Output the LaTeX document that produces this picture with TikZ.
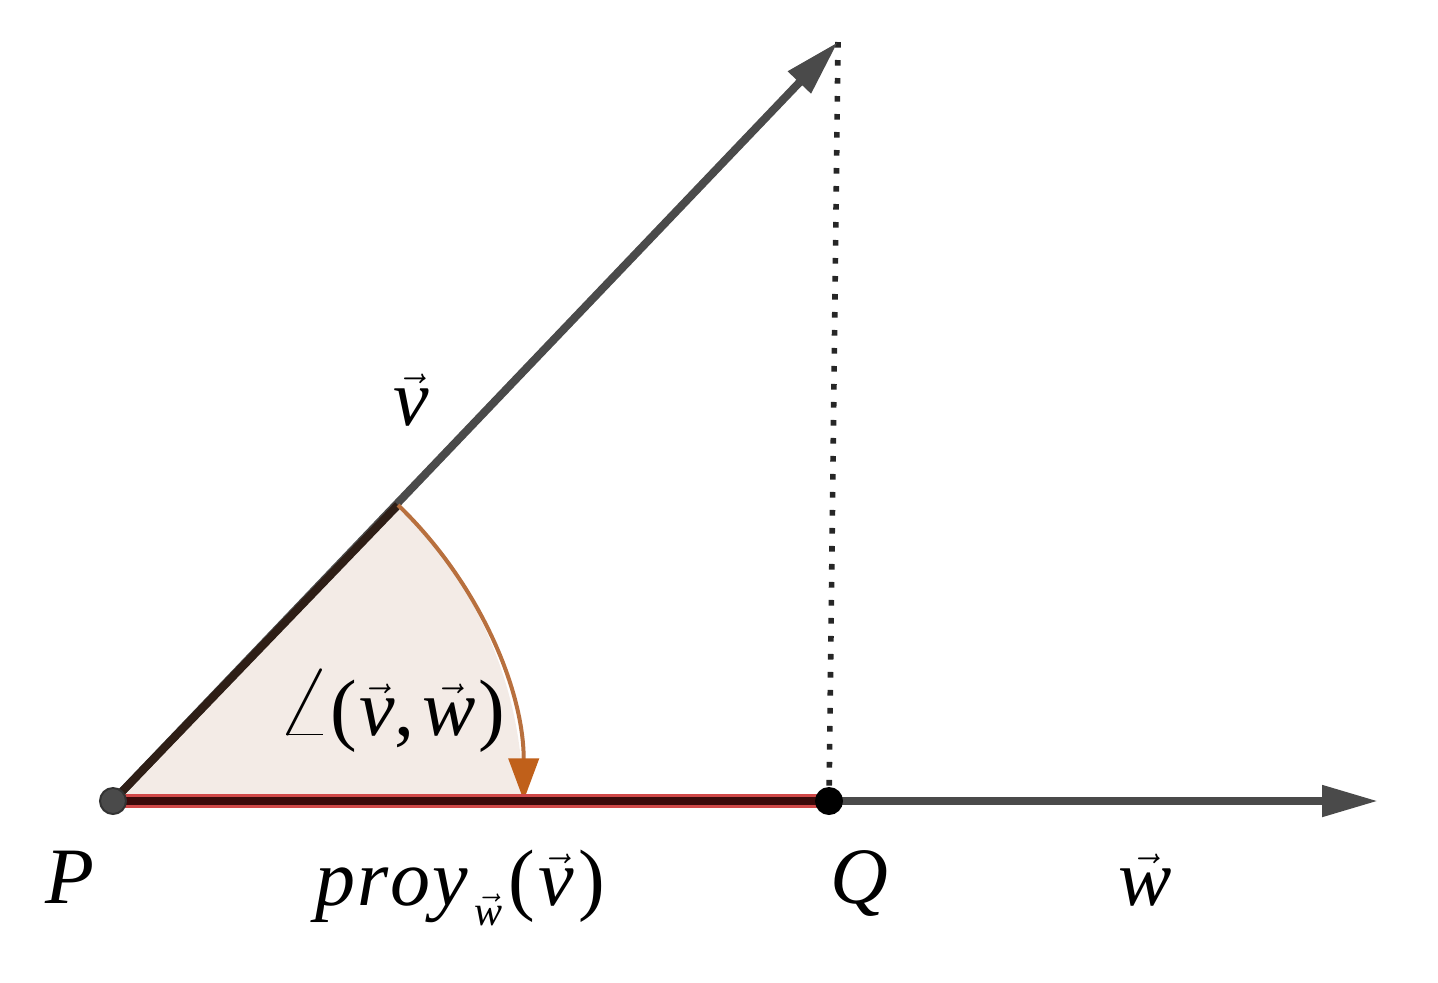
\documentclass[tikz,border=0pt]{standalone}
\usepackage{fontspec}
\setmainfont{Liberation Serif}
\usetikzlibrary{arrows.meta}
\definecolor{gline}{HTML}{4A4A4A}
\definecolor{darkseg}{HTML}{2E1E16}
\definecolor{sectorfill}{HTML}{F3EBE6}
\definecolor{arccol}{HTML}{B8703E}
\definecolor{arrowcol}{HTML}{C0601A}
\definecolor{redglow}{HTML}{D04848}
\definecolor{redcore}{HTML}{3A0A0A}
\newcommand{\vv}[1]{\vec{\textit{#1}}}
\begin{document}
\begin{tikzpicture}[x=0.5pt,y=-0.5pt,
  lbl/.style={inner sep=0pt,font=\fontsize{40}{42}\selectfont},
  vecline/.style={draw=gline,line width=4pt,-{Triangle[length=28pt,width=15pt]}},
  dotline/.style={draw=black!85,line width=2.8pt,dash pattern=on 2.8pt off 6.2pt},
  ptnode/.style={circle,inner sep=0pt,minimum size=13pt,line width=1pt}]
\useasboundingbox (0,0) rectangle (1438,982);
\coordinate (P) at (113,801);
\coordinate (Q) at (829,801);
\coordinate (V) at (838,42);
\coordinate (W) at (1378,801);
\coordinate (A) at (398,505);
\coordinate (B) at (523,801);
% sector
\fill[sectorfill] (P) -- (B) arc[start angle=0,end angle=46.1,radius=205pt] -- cycle;
% dotted perpendicular
\draw[dotline] (V) -- (Q);
% vector v
\draw[vecline] (P) -- (V);
\draw[darkseg,line width=4pt] (P) -- (A);
% angle arc
\draw[arccol,line width=2pt,-{Triangle[length=21pt,width=15pt,color=arrowcol]}] (A) arc[start angle=46.1,end angle=0,radius=205pt];
% projection
\draw[redglow,line width=7pt] (P) -- (Q);
\draw[redcore,line width=4pt] (P) -- (Q);
% vector w
\draw[vecline] (Q) -- (W);
% points
\node[ptnode,fill=gline,draw=black!80] (Pn) at (P) {};
\node[ptnode,fill=black,draw=black] (Qn) at (Q) {};
% labels
\node[lbl,anchor=base west] (lv) at (393,425) {$\vv{v}$};
\node[lbl,anchor=base west] (lang) at (276,735) {\scalebox{1.45}{$\angle$}\kern-1pt(\kern1pt$\vv{v}$,\kern4pt$\vv{w}$\kern1pt)};
\node[lbl,anchor=base west] (lP) at (45,903) {\itshape P};
\node[lbl,anchor=base west] (lproy) at (315,905) {\textit{p\kern1pt r\kern1pt o\kern1pt y}\kern3pt\raisebox{-10pt}{\fontsize{21}{22}\selectfont$\vv{w}$}\kern3pt(\kern2pt$\vv{v}$\kern2pt)};
\node[lbl,anchor=base west] (lQ) at (830,903) {\itshape Q};
\node[lbl,anchor=base west] (lw) at (1118,905) {$\vv{w}$};
\end{tikzpicture}
\end{document}
